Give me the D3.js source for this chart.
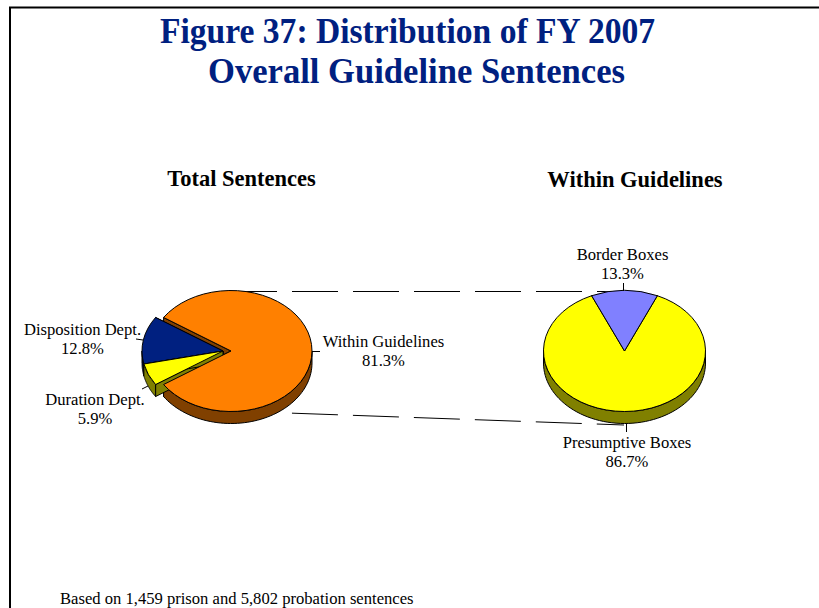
<!DOCTYPE html>
<html>
<head>
<meta charset="utf-8">
<script src="https://cdn.jsdelivr.net/npm/d3@7"></script>
<style>
  body { margin: 0; background: #fff; }
  text { font-family: "Liberation Serif", serif; }
</style>
</head>
<body>
<div id="chart"></div>
<script>
var titleLines = ['Figure 37: Distribution of FY 2007', 'Overall Guideline Sentences'];
var footnote = 'Based on 1,459 prison and 5,802 probation sentences';

var leftTitle = 'Total Sentences';
var leftCategories = ['Within Guidelines', 'Duration Dept.', 'Disposition Dept.'];
var leftValues = [81.3, 5.9, 12.8];

var rightTitle = 'Within Guidelines';
var rightCategories = ['Border Boxes', 'Presumptive Boxes'];
var rightValues = [13.3, 86.7];

var width = 819, height = 608;
var rx = 81, ry = 60.5, depth = 12;
var deg = Math.PI / 180;

var svg = d3.select('#chart').append('svg')
  .attr('width', width)
  .attr('height', height)
  .style('display', 'block')
  .style('background', '#ffffff');

// frame, only top and left show in the crop
svg.append('path')
  .attr('d', 'M10,' + height + 'V7.5H' + width)
  .attr('fill', 'none')
  .attr('stroke', '#000')
  .attr('stroke-width', 2);

svg.selectAll('.title').data(titleLines).enter().append('text')
  .attr('class', 'title')
  .attr('x', function(d, i) { return [407.5, 416.5][i]; })
  .attr('y', function(d, i) { return [43, 83][i]; })
  .attr('text-anchor', 'middle')
  .attr('fill', '#002080')
  .attr('textLength', function(d, i) { return [495, 417][i]; })
  .attr('lengthAdjust', 'spacingAndGlyphs')
  .style('font-size', '35px')
  .style('font-weight', 'bold')
  .text(function(d) { return d; });

// dashed connectors go behind both pies
var connectors = [[[231, 291.5], [624, 291.5]], [[231, 411], [624, 425]]];
svg.selectAll('.connector').data(connectors).enter().append('path')
  .attr('class', 'connector')
  .attr('d', d3.line())
  .attr('fill', 'none')
  .attr('stroke', '#000')
  .attr('stroke-width', 1)
  .attr('stroke-dasharray', '46 15');

function drawPie(values, colors, darks, offsets, order, cx, cy, startAngle) {
  var slices = d3.pie().sort(null).startAngle(startAngle).endAngle(startAngle + 2 * Math.PI)(values);
  var x = d3.scaleLinear().domain([-1, 1]).range([cx - rx, cx + rx]);
  var y = d3.scaleLinear().domain([-1, 1]).range([cy - ry, cy + ry]);
  var arc = d3.arc().innerRadius(0).outerRadius(rx);
  var line = d3.line();
  var layer = svg.append('g');
  var topLayer = svg.append('g');

  function rim(a) { return [x(Math.sin(a)), y(-Math.cos(a))]; }
  function drop(p) { return [p[0], p[1] + depth]; }

  // outer wall, only the part facing the viewer (90deg to 270deg from top)
  function wall(a0, a1) {
    var parts = [];
    [0, 1, 2].forEach(function(k) {
      var from = Math.max(a0, 90 * deg + k * 2 * Math.PI);
      var to = Math.min(a1, 270 * deg + k * 2 * Math.PI);
      if (to > from) {
        var top = d3.range(0, 61).map(function(i) { return rim(from + (to - from) * i / 60); });
        parts.push(line(top.concat(top.slice().reverse().map(drop))) + 'Z');
      }
    });
    return parts.join('');
  }

  // flat cut face from the centre out to one rim point
  function cut(a) {
    var c = [cx, cy], p = rim(a);
    return line([c, p, drop(p), drop(c)]) + 'Z';
  }

  // painter's order, back slices first. the first slice's top goes on last
  // so it hides the cut faces of the pulled out slices
  order.forEach(function(i, n) {
    var s = slices[i];
    var g = layer.append('g').attr('transform', 'translate(' + offsets[i] + ',0)');
    var sides = g.append('g')
      .attr('fill', darks[i])
      .attr('stroke', '#000')
      .attr('stroke-width', 1)
      .attr('stroke-linejoin', 'round');
    sides.append('path').attr('d', cut(s.startAngle));
    sides.append('path').attr('d', cut(s.endAngle));
    sides.append('path').attr('d', wall(s.startAngle, s.endAngle));
    (n == 0 ? topLayer : g).append('path')
      .attr('transform', 'translate(' + (cx + (n == 0 ? offsets[i] : 0)) + ',' + cy + ') scale(1,' + (ry / rx) + ')')
      .attr('d', arc(s))
      .attr('fill', colors[i])
      .attr('stroke', '#000')
      .attr('stroke-width', 1)
      .attr('vector-effect', 'non-scaling-stroke');
  });
}

drawPie(leftValues, ['#ff8000', '#ffff00', '#002080'], ['#804000', '#808000', '#001040'],
  [0, -8, -8], [0, 2, 1], 231, 351, -146.34 * deg + 90 * deg);
drawPie(rightValues, ['#8080ff', '#ffff00'], ['#404080', '#808000'],
  [0, 0], [0, 1], 624.5, 351, -23.94 * deg);

var leaders = [
  [[312, 351.5], [320, 351.5]],
  [[136, 339], [143, 340]],
  [[142, 389], [148, 386]],
  [[623.5, 283], [623.5, 291]],
  [[626.5, 423], [626.5, 432]]
];
svg.selectAll('.leader').data(leaders).enter().append('path')
  .attr('class', 'leader')
  .attr('d', d3.line())
  .attr('stroke', '#000')
  .attr('stroke-width', 1);

var labelPos = [
  [383.5, 347, leftCategories[0], leftValues[0]],
  [82.5, 335, leftCategories[2], leftValues[2]],
  [95, 405, leftCategories[1], leftValues[1]],
  [622.5, 260, rightCategories[0], rightValues[0]],
  [627, 448, rightCategories[1], rightValues[1]]
];
labelPos.forEach(function(l) {
  var t = svg.append('text')
    .attr('text-anchor', 'middle')
    .attr('fill', '#000')
    .style('font-size', '16.6px');
  t.append('tspan').attr('x', l[0]).attr('y', l[1]).text(l[2]);
  t.append('tspan').attr('x', l[0]).attr('y', l[1] + 19).text(d3.format('.1f')(l[3]) + '%');
});

svg.selectAll('.pieTitle').data([[241.5, 186, leftTitle], [635, 187, rightTitle]]).enter().append('text')
  .attr('class', 'pieTitle')
  .attr('x', function(d) { return d[0]; })
  .attr('y', function(d) { return d[1]; })
  .attr('text-anchor', 'middle')
  .style('font-size', '22.5px')
  .style('font-weight', 'bold')
  .text(function(d) { return d[2]; });

svg.append('text')
  .attr('x', 60)
  .attr('y', 604)
  .style('font-size', '16.6px')
  .text(footnote);
</script>
</body>
</html>
